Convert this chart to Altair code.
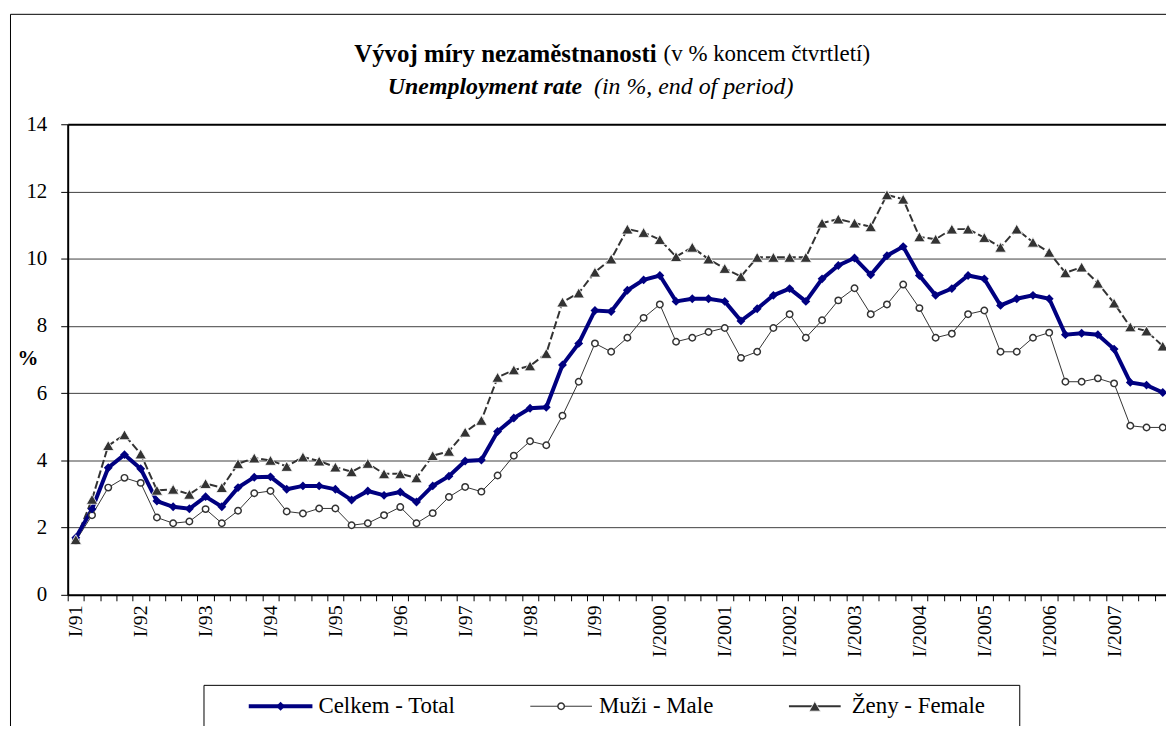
import json
import altair as alt
import pandas as pd

# ---------------- data ----------------
year_labels = ["I/91", "I/92", "I/93", "I/94", "I/95", "I/96", "I/97", "I/98", "I/99",
               "I/2000", "I/2001", "I/2002", "I/2003", "I/2004", "I/2005", "I/2006", "I/2007"]

total = [1.70, 2.55, 3.78, 4.17, 3.75, 2.79, 2.62, 2.56, 2.92, 2.62, 3.19, 3.50, 3.51, 3.14,
         3.24, 3.24, 3.14, 2.82, 3.09, 2.96, 3.06, 2.76, 3.24, 3.53, 3.98, 4.01, 4.86, 5.26,
         5.55, 5.58, 6.84, 7.48, 8.46, 8.43, 9.06, 9.37, 9.50, 8.73, 8.81, 8.81, 8.73, 8.15,
         8.51, 8.91, 9.11, 8.73, 9.40, 9.80, 10.02, 9.52, 10.09, 10.36, 9.50, 8.91, 9.11, 9.50,
         9.40, 8.61, 8.81, 8.91, 8.81, 7.74, 7.78, 7.74, 7.31, 6.32, 6.24, 6.02]

men = [1.60, 2.37, 3.19, 3.48, 3.33, 2.30, 2.13, 2.18, 2.55, 2.13, 2.50, 3.02, 3.09, 2.48,
       2.42, 2.57, 2.57, 2.07, 2.13, 2.37, 2.61, 2.13, 2.43, 2.91, 3.21, 3.07, 3.55, 4.14,
       4.57, 4.45, 5.33, 6.34, 7.48, 7.23, 7.65, 8.24, 8.64, 7.53, 7.65, 7.82, 7.94, 7.05,
       7.23, 7.94, 8.35, 7.65, 8.17, 8.76, 9.12, 8.35, 8.64, 9.23, 8.53, 7.65, 7.77, 8.35,
       8.46, 7.23, 7.23, 7.65, 7.80, 6.34, 6.34, 6.44, 6.29, 5.03, 4.98, 4.98]

women = [1.64, 2.84, 4.44, 4.76, 4.19, 3.11, 3.14, 2.99, 3.31, 3.19, 3.90, 4.07, 4.00, 3.82,
         4.10, 3.98, 3.80, 3.66, 3.91, 3.60, 3.60, 3.48, 4.14, 4.27, 4.84, 5.19, 6.47, 6.69,
         6.81, 7.18, 8.71, 8.98, 9.60, 9.99, 10.88, 10.78, 10.57, 10.06, 10.34, 9.99, 9.71, 9.47,
         10.04, 10.04, 10.04, 10.04, 11.06, 11.18, 11.06, 10.95, 11.90, 11.77, 10.65, 10.58, 10.88, 10.88,
         10.63, 10.34, 10.88, 10.49, 10.19, 9.58, 9.75, 9.27, 8.68, 7.97, 7.85, 7.40]

series_names = ["Celkem - Total", "Muži - Male", "Ženy - Female"]
y_ticks = [0, 2, 4, 6, 8, 10, 12, 14]

title_bold = "Vývoj míry nezaměstnanosti"
title_rest = "(v % koncem čtvrtletí)"
sub_bold = "Unemployment rate"
sub_rest = "(in %, end of period)"

# ---------------- layout helpers ----------------
FONT = "'Liberation Serif', 'Times New Roman', 'DejaVu Serif', serif"
LEFT, TOP = 60, 115          # padding -> plot origin at page (68, 123)
W, H = 1104, 473
CANVAS_H = 718


def px(x):
    return x - 68


def py(y):
    return y - 123


def frame(vals, name):
    return pd.DataFrame({"idx": list(range(len(vals))), "value": vals, "series": name})


df_total = frame(total, series_names[0])
df_men = frame(men, series_names[1])
df_women = frame(women, series_names[2])

n = len(total)
boundaries = [i - 0.5 for i in range(n + 1) if i - 0.5 <= 67.2]
label_pos = [4 * k for k in range(len(year_labels))]
x_values = boundaries + label_pos

x_axis = alt.Axis(
    values=x_values,
    labelExpr="datum.value % 4 === 0 ? " + json.dumps(year_labels) + "[datum.value / 4] : ''",
    labelAngle=270,
    labelFont=FONT, labelFontSize=20, labelColor="black",
    labelOverlap=False, labelFlush=False, labelPadding=4,
    tickColor="black", tickSize=6, tickWidth=1,
    tickOpacity={"condition": {"test": "datum.value % 1 === 0", "value": 0}, "value": 1},
    domainColor="black", domainWidth=2,
    grid=False, title=None,
)

y_axis = alt.Axis(
    values=y_ticks,
    labelFont=FONT, labelFontSize=21, labelColor="black", labelPadding=14,
    tickColor="black", tickSize=7, tickWidth=1,
    domainColor="black", domainWidth=2,
    grid=True,
    gridColor={"condition": {"test": "datum.value === 14", "value": "black"}, "value": "#404040"},
    gridWidth={"condition": {"test": "datum.value === 14", "value": 2}, "value": 1},
    title="%", titleAngle=0, titleFont=FONT, titleFontSize=21, titleFontWeight="bold",
    titleColor="black", titleX=-51, titleY=235, titleAlign="left", titleBaseline="middle",
)

x_enc = alt.X("idx:Q", scale=alt.Scale(domain=[-0.5, 67.2], nice=False, zero=False), axis=x_axis)
y_enc = alt.Y("value:Q", scale=alt.Scale(domain=[0, 14], nice=False), axis=y_axis)

NAVY = "#000080"
GREY = "#333333"

total_line = alt.Chart(df_total).mark_line(color=NAVY, strokeWidth=4).encode(x=x_enc, y=y_enc)
total_pts = alt.Chart(df_total).mark_point(shape="diamond", filled=True, color=NAVY, size=80, opacity=1).encode(x=x_enc, y=y_enc)

men_line = alt.Chart(df_men).mark_line(color=GREY, strokeWidth=1).encode(x=x_enc, y=y_enc)
men_pts = alt.Chart(df_men).mark_point(shape="circle", filled=True, fill="white", stroke=GREY,
                                       strokeWidth=1.5, size=42, opacity=1).encode(x=x_enc, y=y_enc)

women_line = alt.Chart(df_women).mark_line(color=GREY, strokeWidth=2, strokeDash=[8, 3]).encode(x=x_enc, y=y_enc)
women_pts = alt.Chart(df_women).mark_point(shape="triangle-up", filled=True, fill=GREY, stroke="white",
                                           strokeWidth=0.8, size=130, opacity=1).encode(x=x_enc, y=y_enc)

one = pd.DataFrame({"k": [0]})


def text_layer(txt, x, y, align, size=20, weight="normal", style="normal"):
    return alt.Chart(one).mark_text(
        text=txt, align=align, baseline="middle", font=FONT, fontSize=size,
        fontWeight=weight, fontStyle=style, color="black"
    ).encode(x=alt.value(px(x)), y=alt.value(py(y)))


# titles
titles = [
    text_layer(title_bold, 660, 52, "right", 25, "bold"),
    text_layer(title_rest, 667, 52, "left", 23),
    text_layer(sub_bold, 585, 86, "right", 24, "bold", "italic"),
    text_layer(sub_rest, 597, 86, "left", 24, "normal", "italic"),
]

# outer chart border (left & top)
border = [
    alt.Chart(one).mark_rule(color="black", strokeWidth=1).encode(
        x=alt.value(px(10.5)), y=alt.value(py(12.5)), y2=alt.value(py(740))),
    alt.Chart(one).mark_rule(color="black", strokeWidth=1).encode(
        x=alt.value(px(10.5)), x2=alt.value(px(1180)), y=alt.value(py(12.5))),
]

# legend
LY = 708
legend = [
    alt.Chart(one).mark_rect(fill="white", stroke="black", strokeWidth=1).encode(
        x=alt.value(px(205)), x2=alt.value(px(1025)), y=alt.value(py(687)), y2=alt.value(py(740))),
    alt.Chart(one).mark_rule(color=NAVY, strokeWidth=4).encode(
        x=alt.value(px(250)), x2=alt.value(px(314)), y=alt.value(py(LY))),
    alt.Chart(one).mark_point(shape="diamond", filled=True, color=NAVY, size=80, opacity=1).encode(
        x=alt.value(px(282)), y=alt.value(py(LY))),
    text_layer(series_names[0], 320, LY, "left", 23),
    alt.Chart(one).mark_rule(color=GREY, strokeWidth=1).encode(
        x=alt.value(px(533)), x2=alt.value(px(595)), y=alt.value(py(LY))),
    alt.Chart(one).mark_point(shape="circle", filled=True, fill="white", stroke=GREY, strokeWidth=1.5,
                              size=42, opacity=1).encode(x=alt.value(px(564)), y=alt.value(py(LY))),
    text_layer(series_names[1], 602, LY, "left", 23),
    alt.Chart(one).mark_rule(color=GREY, strokeWidth=2).encode(
        x=alt.value(px(793)), x2=alt.value(px(845)), y=alt.value(py(LY))),
    alt.Chart(one).mark_point(shape="triangle-up", filled=True, fill=GREY, stroke="white", strokeWidth=0.8,
                              size=130, opacity=1).encode(x=alt.value(px(819)), y=alt.value(py(LY))),
    text_layer(series_names[2], 856, LY, "left", 23),
]

chart = alt.layer(
    *border,
    women_line, men_line, total_line,
    men_pts, total_pts, women_pts,
    *titles,
    *legend,
).properties(
    width=W, height=H,
    padding={"left": LEFT, "top": TOP, "right": 0, "bottom": CANVAS_H - TOP - H},
    autosize=alt.AutoSizeParams(type="none"),
    background="white",
).configure_view(strokeWidth=0)

chart.save("out.html", embed_options={"renderer": "svg", "actions": False})
